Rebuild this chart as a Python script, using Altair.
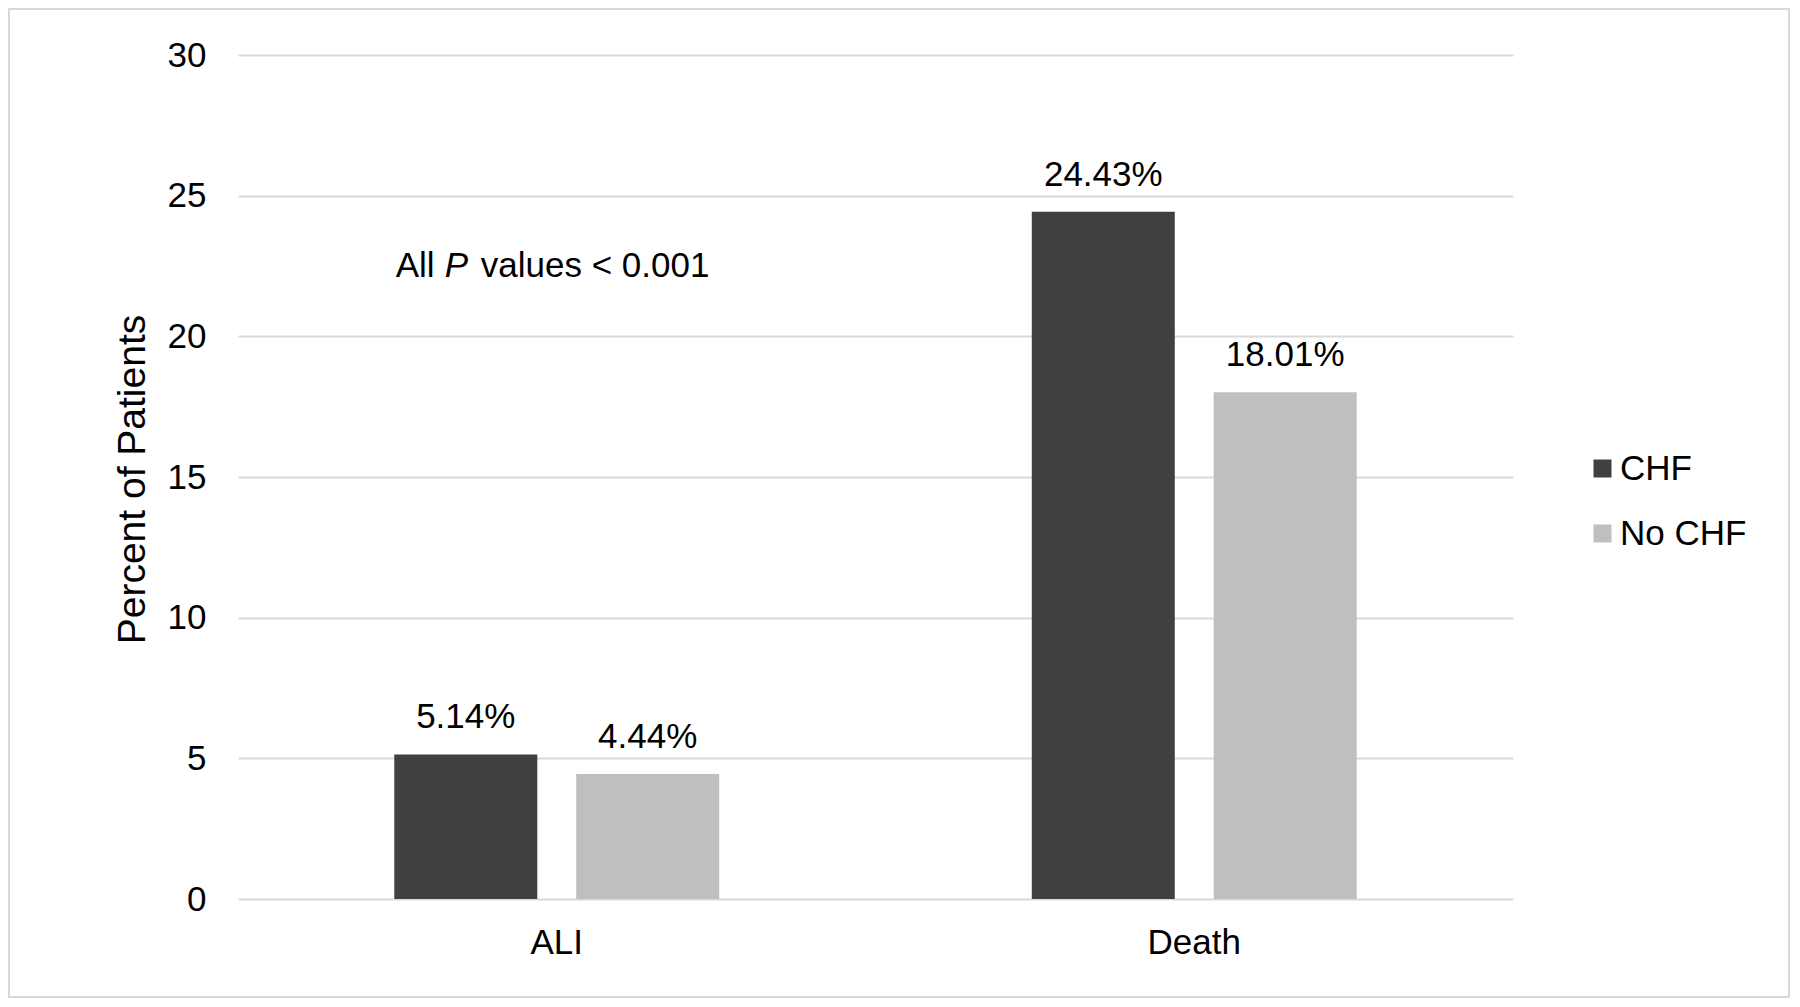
import altair as alt
import pandas as pd

categories = ["ALI", "ALI", "Death", "Death"]
groups = ["CHF", "No CHF", "CHF", "No CHF"]
values = [5.14, 4.44, 24.43, 18.01]
value_labels = ["5.14%", "4.44%", "24.43%", "18.01%"]

note_parts = ["All", "P", "values < 0.001"]
note_styles = ["normal", "italic", "normal"]
note_dx = [-161, -112, -76]
note_y = 22.1

FONT = "Liberation Sans"
W, H = 1275, 844

df = pd.DataFrame({"cat": categories, "grp": groups, "val": values, "lbl": value_labels})

x_enc = alt.X("cat:N", scale=alt.Scale(paddingInner=0, paddingOuter=0),
              axis=alt.Axis(title=None, labelAngle=0, labelFontSize=35, labelFont=FONT,
                            labelColor="#000000", domain=False, ticks=False, labelPadding=26))
xoff = alt.XOffset("grp:N", scale=alt.Scale(domain=["CHF", "No CHF"], paddingInner=0.214, paddingOuter=0.859))
y_enc = alt.Y("val:Q", scale=alt.Scale(domain=[0, 30], nice=False),
              axis=alt.Axis(values=[0, 5, 10, 15, 20, 25, 30], grid=True, gridColor="#d9d9d9", gridWidth=2,
                            domain=False, ticks=False, labelFontSize=35, labelFont=FONT, labelColor="#000000",
                            labelPadding=32, title="Percent of Patients", titleFontSize=39, titleFont=FONT,
                            titleFontWeight="normal", titleColor="#000000", titleX=-94, titleY=424,
                            titleBaseline="alphabetic"))

color = alt.Color("grp:N", scale=alt.Scale(domain=["CHF", "No CHF"], range=["#404040", "#bfbfbf"]),
                  legend=alt.Legend(title=None, orient="none", legendX=1347, legendY=396, symbolType="square",
                                    symbolSize=324, symbolStrokeWidth=0, labelFontSize=35, labelFont=FONT,
                                    labelColor="#000000", rowPadding=29, padding=0, labelOffset=0))

bars = alt.Chart(df).mark_bar().encode(x=x_enc, xOffset=xoff, y=y_enc, color=color)

labels = alt.Chart(df).mark_text(fontSize=35, font=FONT, color="#000000", baseline="alphabetic", dy=-26).encode(
    x=alt.X("cat:N"), xOffset=alt.XOffset("grp:N"), y=alt.Y("val:Q"), text="lbl:N")

note_df = pd.DataFrame({"cat": ["ALI"] * 3, "t": note_parts, "style": note_styles, "dx": note_dx, "y": [note_y] * 3})
note_layers = []
for i in range(3):
    sub = note_df.iloc[[i]]
    note_layers.append(
        alt.Chart(sub).mark_text(fontSize=35, font=FONT, color="#000000", align="left", baseline="alphabetic",
                                 fontStyle=note_styles[i], dx=note_dx[i]).encode(
            x=alt.X("cat:N"), y=alt.Y("y:Q"), text="t:N"))

frame = alt.Chart(pd.DataFrame({"a": [0]})).mark_rect(fill=None, stroke="#d9d9d9", strokeWidth=2).encode(
    x=alt.value(-229), x2=alt.value(1551), y=alt.value(-46), y2=alt.value(942))

chart = alt.layer(frame, bars, labels, *note_layers).properties(
    width=W, height=H, padding=0, background="white"
).configure_view(stroke=None)

chart.save("out.html", embed_options={"renderer": "svg", "actions": False})
